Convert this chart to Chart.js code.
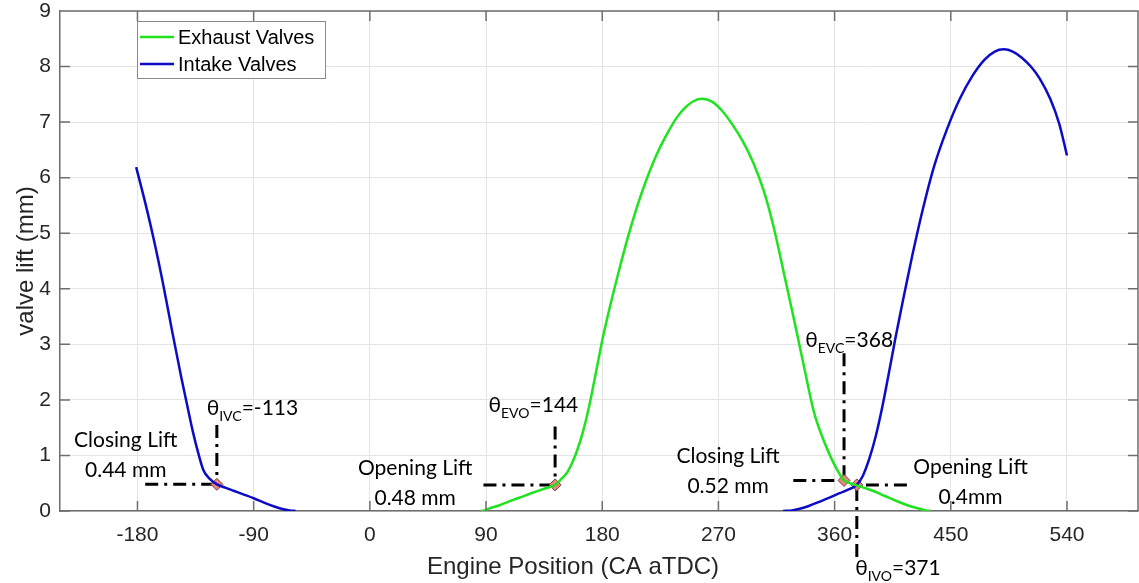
<!DOCTYPE html>
<html lang="en">
<head>
  <meta charset="UTF-8" />
  <title>Valve lift vs engine position</title>
  <script src="https://cdn.jsdelivr.net/npm/chart.js"></script>
  <style>
    html, body { margin: 0; padding: 0; background: #fff; overflow: hidden; }
    #wrap { width: 1139px; height: 583px; }
    canvas { display: block; }
  </style>
</head>
<body>
  <div id="wrap"><canvas id="lift"></canvas></div>

  <script>
    // axis ticks
    const xTicks = [-180, -90, 0, 90, 180, 270, 360, 450, 540];
    const yTicks = [0, 1, 2, 3, 4, 5, 6, 7, 8, 9];

    // intake valve, end of previous cycle (closing)
    const intakeCloseDeg  = [-181, -174, -167, -160, -153, -146, -141, -137, -133, -129, -124, -118.5, -112, -105, -98, -90, -82, -74, -67, -62, -57.5];
    const intakeCloseLift = [6.19, 5.55, 4.85, 4.07, 3.22, 2.40, 1.85, 1.42, 1.05, 0.74, 0.58, 0.48, 0.42, 0.36, 0.30, 0.23, 0.15, 0.08, 0.03, 0.01, 0];

    // exhaust valve
    const exhaustDeg  = [86, 89, 93, 100, 110, 117, 125, 135, 143.5, 148.9, 153, 157, 161, 165, 170, 175, 180, 186, 193, 200, 207, 214, 222, 230, 238, 245, 251, 257,
                         265, 273, 281, 289, 297, 305, 313, 321, 329, 337, 344, 351, 358, 363, 367.3, 372, 377.2, 384, 390, 399, 408, 417, 426, 431, 434];
    const exhaustLift = [0, 0.01, 0.05, 0.10, 0.19, 0.25, 0.32, 0.40, 0.47, 0.59, 0.70, 0.88, 1.12, 1.42, 1.90, 2.48, 3.07, 3.68, 4.33, 4.94, 5.48, 5.95, 6.41, 6.78, 7.09, 7.28, 7.38, 7.42,
                         7.37, 7.20, 6.95, 6.65, 6.27, 5.77, 5.09, 4.25, 3.40, 2.52, 1.78, 1.30, 0.92, 0.70, 0.55, 0.50, 0.46, 0.41, 0.36, 0.27, 0.18, 0.10, 0.04, 0.01, 0];

    // intake valve, opening
    const intakeOpenDeg  = [320, 327, 333, 340, 348.6, 356, 364, 370, 377.2, 382, 387, 392, 397, 402, 407, 413, 420, 428, 437, 447, 457, 467, 476, 484, 491, 498, 505, 512, 519, 527, 534, 540];
    const intakeOpenLift = [0, 0.01, 0.04, 0.09, 0.17, 0.24, 0.32, 0.38, 0.47, 0.64, 0.95, 1.36, 1.88, 2.48, 3.10, 3.80, 4.58, 5.40, 6.20, 6.87, 7.42, 7.84, 8.12, 8.27, 8.31, 8.27, 8.16, 8.00, 7.78, 7.42, 6.97, 6.40];

    // valve events (IVC, EVO, EVC, IVO)
    const eventName  = ['IVC', 'EVO', 'EVC', 'IVO'];
    const eventValue = ['-113', '144', '368', '371'];
    const eventDeg   = [-118.5, 143.5, 367.3, 377.2];
    const eventLift  = [0.48, 0.47, 0.55, 0.47];
    const liftText   = [['Closing Lift', '0.44 mm'], ['Opening Lift', '0.48 mm'], ['Closing Lift', '0.52 mm'], ['Opening Lift', '0.4mm']];

    // dash-dot guide ends for each event
    const guideDegTo  = [-174, 88, 328, 416];
    const guideLiftTo = [1.55, 1.52, 2.84, -0.83];

    const GREEN = '#1fe31f';
    const BLUE = '#0c0cc6';
    const AXIS = '#6e6e6e';
    const TXT = '#262626';
    const SANS = '"Liberation Sans", Arial, sans-serif';
    const NOTE = 'Lato, "Noto Sans", sans-serif';

    const toPoints = (xs, ys) => xs.map((v, i) => ({ x: v, y: ys[i] }));

    const framePlugin = {
      id: 'frame',
      beforeDatasetsDraw(chart) {
        const { ctx, scales: { x, y } } = chart;
        ctx.save();
        ctx.strokeStyle = '#000';
        ctx.lineWidth = 3;
        ctx.setLineDash([13, 6, 3, 6]);
        eventDeg.forEach((d, i) => {
          const px = x.getPixelForValue(d);
          const py = y.getPixelForValue(eventLift[i]);
          ctx.beginPath();
          ctx.moveTo(x.getPixelForValue(guideDegTo[i]), py);
          ctx.lineTo(px, py);
          ctx.stroke();
          ctx.beginPath();
          ctx.moveTo(px, y.getPixelForValue(guideLiftTo[i]));
          ctx.lineTo(px, py);
          ctx.stroke();
        });
        ctx.restore();
      },
      afterDraw(chart) {
        const { ctx, chartArea: { left, right, top, bottom }, scales: { x, y } } = chart;
        ctx.save();

        // box + inward ticks
        ctx.strokeStyle = AXIS;
        ctx.lineWidth = 1.5;
        ctx.beginPath();
        ctx.moveTo(left, top); ctx.lineTo(right, top); ctx.lineTo(right, bottom);
        xTicks.forEach(v => {
          const p = x.getPixelForValue(v);
          ctx.moveTo(p, bottom); ctx.lineTo(p, bottom - 10);
          ctx.moveTo(p, top); ctx.lineTo(p, top + 10);
        });
        yTicks.forEach(v => {
          const p = y.getPixelForValue(v);
          ctx.moveTo(left, p); ctx.lineTo(left + 10, p);
          ctx.moveTo(right, p); ctx.lineTo(right - 10, p);
        });
        ctx.stroke();

        // axis titles
        ctx.fillStyle = TXT;
        ctx.font = '24px ' + SANS;
        ctx.textAlign = 'center';
        ctx.textBaseline = 'middle';
        ctx.fillText('Engine Position (CA aTDC)', left + 513, 567);
        ctx.save();
        ctx.translate(26, (top + bottom) / 2);
        ctx.rotate(-Math.PI / 2);
        ctx.fillText('valve lift (mm)', 0, 0);
        ctx.restore();

        // legend
        const lx = left + 77, ly = top + 10;
        ctx.fillStyle = '#fff';
        ctx.fillRect(lx, ly, 188, 57);
        ctx.strokeStyle = '#8a8a8a';
        ctx.lineWidth = 1;
        ctx.strokeRect(lx + 0.5, ly + 0.5, 188, 57);
        const seen = [];
        chart.data.datasets.forEach(ds => {
          if (!ds.inLegend || seen.includes(ds.label)) return;
          const ry = ly + 16 + seen.length * 27;
          seen.push(ds.label);
          ctx.strokeStyle = ds.borderColor;
          ctx.lineWidth = 2.5;
          ctx.beginPath();
          ctx.moveTo(lx + 3, ry); ctx.lineTo(lx + 37, ry);
          ctx.stroke();
          ctx.fillStyle = '#000';
          ctx.font = '20px ' + SANS;
          ctx.textAlign = 'left';
          ctx.textBaseline = 'middle';
          ctx.fillText(ds.label, lx + 41, ry + 1);
        });

        // event notes
        const thetaAt = [[-126.4, 1.73], [91.9, 1.79], [337.2, 2.95], [375.9, -1.15]];
        const liftAt = [[-189.1, 1.16], [35.1, 0.65], [277.5, 0.86], [465.3, 0.67]];
        ctx.fillStyle = '#000';
        ctx.textBaseline = 'alphabetic';
        eventName.forEach((name, i) => {
          let px = x.getPixelForValue(thetaAt[i][0]);
          const py = y.getPixelForValue(thetaAt[i][1]);
          ctx.textAlign = 'left';
          ctx.font = '21px ' + NOTE;
          ctx.fillText('θ', px, py);
          px += ctx.measureText('θ').width;
          ctx.font = '14px ' + NOTE;
          ctx.fillText(name, px, py + 6);
          px += ctx.measureText(name).width;
          ctx.font = '21px ' + NOTE;
          ctx.fillText('=' + eventValue[i], px, py);

          const cx = x.getPixelForValue(liftAt[i][0]);
          const cy = y.getPixelForValue(liftAt[i][1]);
          ctx.textAlign = 'center';
          ctx.fillText(liftText[i][0], cx, cy);
          ctx.fillText(liftText[i][1], cx, cy + 30);
        });

        ctx.restore();
      }
    };

    const lineStyle = { showLine: true, pointRadius: 0, borderWidth: 2.5, cubicInterpolationMode: 'monotone', inLegend: true };

    const noPad = s => { s.paddingTop = 0; s.paddingBottom = 0; s.paddingLeft = 0; s.paddingRight = 0; };

    new Chart(document.getElementById('lift'), {
      type: 'scatter',
      data: {
        datasets: [
          Object.assign({ label: 'Exhaust Valves', data: toPoints(exhaustDeg, exhaustLift), borderColor: GREEN }, lineStyle),
          Object.assign({ label: 'Intake Valves', data: toPoints(intakeCloseDeg, intakeCloseLift), borderColor: BLUE }, lineStyle),
          Object.assign({ label: 'Intake Valves', data: toPoints(intakeOpenDeg, intakeOpenLift), borderColor: BLUE }, lineStyle),
          {
            label: 'events',
            data: toPoints(eventDeg, eventLift),
            pointStyle: 'rectRot',
            pointRadius: 6,
            backgroundColor: '#f0847a',
            borderColor: '#6a4644',
            borderWidth: 1
          }
        ]
      },
      options: {
        responsive: true,
        maintainAspectRatio: false,
        animation: false,
        layout: { autoPadding: false, padding: { top: 11, right: 1, left: 0, bottom: 0 } },
        plugins: { legend: { display: false }, tooltip: { enabled: false } },
        scales: {
          x: {
            type: 'linear',
            min: -240,
            max: 595,
            afterBuildTicks: s => { s.ticks = xTicks.map(v => ({ value: v })); },
            afterFit: s => { s.height = 72; noPad(s); },
            grid: { color: '#e4e4e4', drawTicks: false },
            border: { color: AXIS, width: 1.5 },
            ticks: { padding: 12, color: TXT, maxRotation: 0, font: { family: SANS, size: 21 } }
          },
          y: {
            min: 0,
            max: 9,
            afterBuildTicks: s => { s.ticks = yTicks.map(v => ({ value: v })); },
            afterFit: s => { s.width = 60; noPad(s); },
            grid: { color: '#e4e4e4', drawTicks: false },
            border: { color: AXIS, width: 1.5 },
            ticks: { padding: 9, color: TXT, font: { family: SANS, size: 21, lineHeight: 1 } }
          }
        }
      },
      plugins: [framePlugin]
    });
  </script>
</body>
</html>
